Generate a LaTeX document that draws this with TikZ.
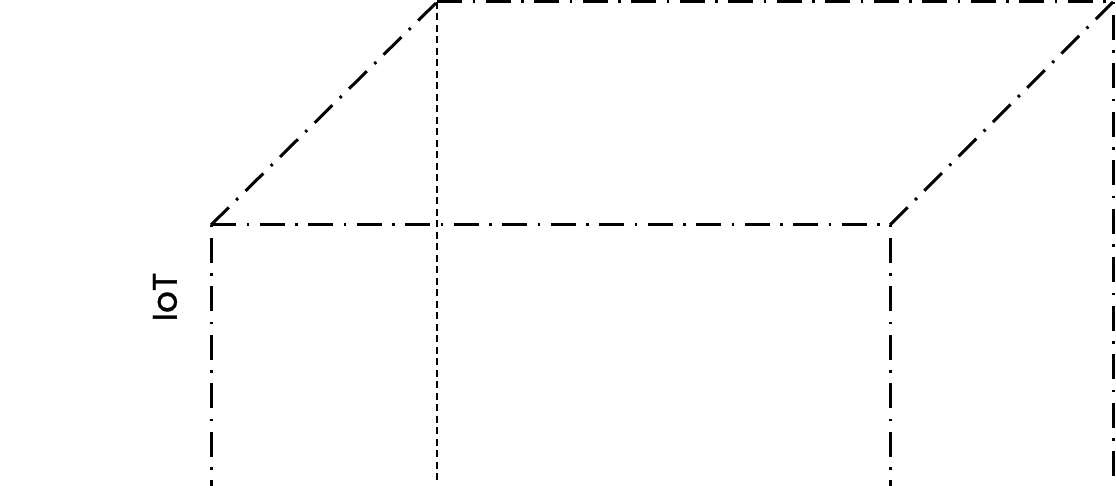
\documentclass[tikz,border=0pt]{standalone}
\usepackage{fontspec}
\newfontfamily\labelfont[RawFeature={embolden=1.2}]{Poppins}
\usetikzlibrary{positioning,calc}

\begin{document}
\begin{tikzpicture}[
        x=1pt, y=1pt,
        edge/.style = {line width=3pt, dash pattern=on 25pt off 10.5pt on 2.5pt off 10.5pt},
        vedge/.style = {edge, dash phase=35.5pt},
        hidden/.style = {line width=1.1pt, dash pattern=on 7pt off 4.5pt},
        axislabel/.style = {rotate=90, inner sep=0pt, font=\labelfont\fontsize{34}{40}\selectfont}
    ]
    \useasboundingbox (0,0) rectangle (1116,486);

        % Place nodes
        \coordinate (fronttl) at (211,261);
        \coordinate (fronttr) at (890,261);
        \coordinate (backtl) at (437,484);
        \coordinate (backtr) at (1113,484);
        \coordinate (frontbl) at (211,0);
        \coordinate (frontbr) at (890,0);
        \coordinate (backbl) at (437,4);
        \coordinate (backbr) at (1113,0);
        \node [axislabel] at ($(fronttl) + (-46,-72)$) (iot) {IoT};

        % Draw edges
        \draw [hidden] (backtl) -- (backbl);
        \draw [edge] (fronttl) -- (fronttr);
        \draw [edge] (backtl) -- (backtr);
        \draw [edge] (fronttl) -- (backtl);
        \draw [edge] (fronttr) -- (backtr);
        \draw [vedge] (fronttl) -- (frontbl);
        \draw [vedge] (fronttr) -- (frontbr);
        \draw [vedge] (backtr) -- (backbr);

\end{tikzpicture}
\end{document}
